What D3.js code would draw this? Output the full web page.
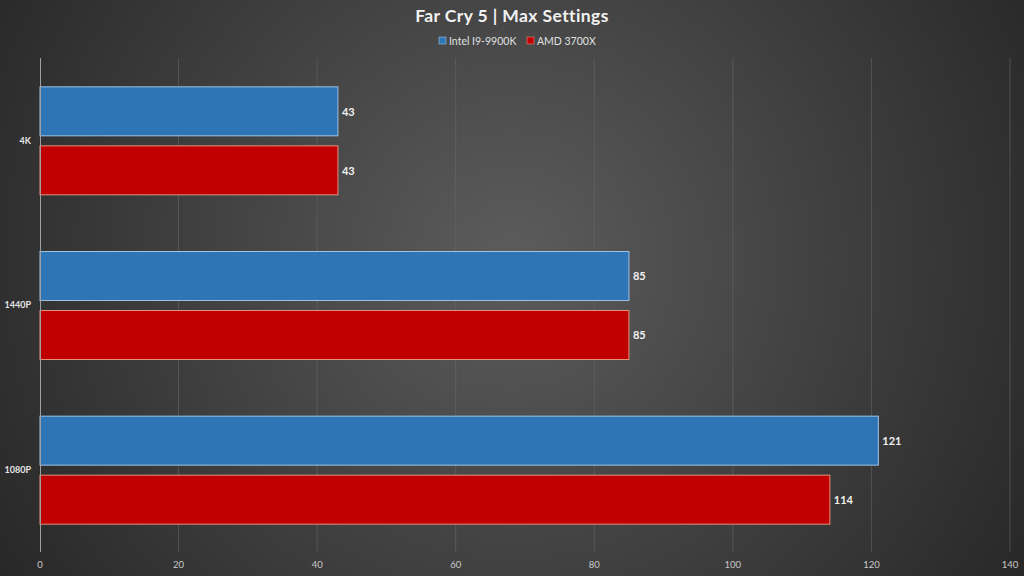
<!DOCTYPE html>
<html><head><meta charset="utf-8">
<script src="https://cdn.jsdelivr.net/npm/d3@7/dist/d3.min.js"></script>
<style>html,body{margin:0;padding:0;background:#333;}svg{display:block;}</style>
</head><body>
<svg id="c" width="1024" height="576"></svg>
<script>
const categories = ["4K", "1440P", "1080P"];
const seriesNames = ["Intel I9-9900K", "AMD 3700X"];
const intelValues = [43, 85, 121];
const amdValues = [43, 85, 114];
const xTicks = [0, 20, 40, 60, 80, 100, 120, 140];
const title = "Far Cry 5 | Max Settings";

const colors = ["#2e75b6", "#c00000"];
const strokes = ["#9dc3e6", "#e8907a"];
const W = 1024, H = 576;
const m = {left: 40, right: 14, top: 58, bottom: 24};
const svg = d3.select("#c");
const font = "Lato, 'Open Sans', sans-serif";

const defs = svg.append("defs");
const rg = defs.append("radialGradient").attr("id","bg")
  .attr("gradientUnits","userSpaceOnUse").attr("cx",512).attr("cy",260).attr("r",620);
rg.append("stop").attr("offset","0").attr("stop-color","#5c5c5c");
rg.append("stop").attr("offset","0.55").attr("stop-color","#3e3e3e");
rg.append("stop").attr("offset","1").attr("stop-color","#262626");
svg.append("rect").attr("width",W).attr("height",H).attr("fill","url(#bg)");

const x = d3.scaleLinear().domain([0,140]).range([m.left, W - m.right]);
const y = d3.scaleBand().domain(categories).range([m.top, H - m.bottom]).paddingInner(0).paddingOuter(0);
const inner = d3.scaleBand().domain([0,1]).range([0, y.bandwidth()]).paddingInner(0.17).paddingOuter(0.48);

// gridlines
svg.append("g").selectAll("line").data(xTicks.slice(1)).join("line")
  .attr("x1",d=>x(d)).attr("x2",d=>x(d)).attr("y1",m.top).attr("y2",H-m.bottom)
  .attr("stroke","#6a6a6a").attr("stroke-opacity",0.55).attr("stroke-width",1);

// bars
const data = [];
categories.forEach((c,i)=>{
  data.push({c, s:0, v:intelValues[i]});
  data.push({c, s:1, v:amdValues[i]});
});
svg.append("g").selectAll("rect").data(data).join("rect")
  .attr("x", x(0)).attr("y", d=>y(d.c)+inner(d.s)+0.5)
  .attr("width", d=>x(d.v)-x(0)).attr("height", inner.bandwidth())
  .attr("fill", d=>colors[d.s]).attr("stroke", d=>strokes[d.s]).attr("stroke-width",1);

svg.append("g").selectAll("text").data(data).join("text")
  .attr("x", d=>x(d.v)+4).attr("y", d=>y(d.c)+inner(d.s)+inner.bandwidth()/2+2)
  .attr("dominant-baseline","middle")
  .attr("fill","#f2f2f2").attr("font-family",font).attr("font-weight","bold").attr("font-size",11)
  .text(d=>d.v);

// axis line
svg.append("line").attr("x1",x(0)+0.5).attr("x2",x(0)+0.5).attr("y1",m.top).attr("y2",H-m.bottom)
  .attr("stroke","#a0a0a0").attr("stroke-width",1);

// category labels
svg.append("g").selectAll("text").data(categories).join("text")
  .attr("x", 31).attr("y", d=>y(d)+y.bandwidth()/2+1)
  .attr("text-anchor","end").attr("dominant-baseline","middle")
  .attr("fill","#e6e6e6").attr("font-family",font).attr("font-weight","bold").attr("font-size",9)
  .text(d=>d);

// x tick labels
svg.append("g").selectAll("text").data(xTicks).join("text")
  .attr("x", d=>x(d)).attr("y", 568).attr("text-anchor","middle")
  .attr("fill","#c8c8c8").attr("font-family",font).attr("font-size",9.5)
  .text(d=>d);

// title
svg.append("text").attr("x",512).attr("y",22).attr("text-anchor","middle")
  .attr("fill","#f2f2f2").attr("font-family",font).attr("font-weight","bold").attr("font-size",17.5)
  .attr("letter-spacing",0.4)
  .text(title);

// legend
const lg = svg.append("g");
const legendX = [439, 527];
seriesNames.forEach((n,i)=>{
  lg.append("rect").attr("x",legendX[i]).attr("y",37).attr("width",7).attr("height",7)
    .attr("fill",colors[i]).attr("stroke",strokes[i]).attr("stroke-width",0.6);
  lg.append("text").attr("x",legendX[i]+10).attr("y",44.5)
    .attr("fill","#e0e0e0").attr("font-family",font).attr("font-size",10.5).text(n);
});
</script>
</body></html>
